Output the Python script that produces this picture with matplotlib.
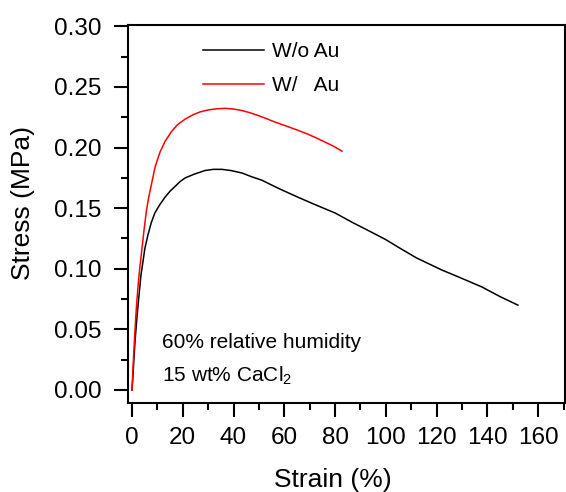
#stress-strain curves, with and without Au

import numpy as np
import matplotlib
matplotlib.use('Agg')
import matplotlib.pyplot as plt

plt.rcParams['font.family'] = ['Liberation Sans', 'DejaVu Sans']
plt.rcParams['mathtext.fontset'] = 'custom'
plt.rcParams['mathtext.rm'] = 'Liberation Sans'
plt.rcParams['mathtext.it'] = 'Liberation Sans:italic'

#W/o Au (black)
strain_wo = [0.0, 0.4, 0.8, 1.2, 1.8, 2.4, 3.5, 5.1, 6.3, 7.6, 9.0, 11.0, 13.0, 15.0, 17.0, 19.0,
             21.0, 24.5, 28.7, 32.0, 35.4, 39.0, 43.3, 47.0, 51.2, 58.0, 65.4, 72.0, 80.0,
             87.0, 94.5, 100.0, 104.7, 112.0, 122.0, 130.0, 137.8, 145.0, 152.0]
stress_wo = [0.000, 0.012, 0.027, 0.040, 0.056, 0.070, 0.094, 0.117, 0.128, 0.138, 0.146, 0.153,
             0.159, 0.164, 0.168, 0.172, 0.175, 0.178, 0.181, 0.182, 0.182, 0.181, 0.179, 0.176,
             0.173, 0.166, 0.159, 0.153, 0.146, 0.138, 0.130, 0.124, 0.118, 0.109, 0.099, 0.092,
             0.085, 0.077, 0.070]

#W/ Au (red)
strain_w = [0.0, 0.5, 1.2, 1.8, 2.4, 3.1, 3.9, 4.8, 5.7, 6.6, 7.5, 9.1, 11.0, 13.0, 15.5, 18.0,
            21.0, 24.0, 27.0, 30.0, 33.5, 36.6, 40.0, 43.3, 46.5, 49.6, 53.0, 56.3, 60.0,
            65.0, 69.3, 72.5, 76.0, 79.5, 82.7]
stress_w = [0.000, 0.022, 0.050, 0.070, 0.086, 0.101, 0.116, 0.133, 0.148, 0.159, 0.168, 0.184,
            0.196, 0.205, 0.213, 0.219, 0.2235, 0.227, 0.2295, 0.231, 0.232, 0.2323, 0.2318,
            0.2305, 0.2287, 0.2265, 0.2238, 0.221, 0.2183, 0.2145, 0.211, 0.208, 0.2045,
            0.201, 0.197]

fig = plt.figure(figsize=(5.66, 4.92), dpi=100)
ax = fig.add_axes([0.226, 0.181, 0.772, 0.768])

ax.plot(strain_wo, stress_wo, color='black', lw=1.1, label='W/o Au')
ax.plot(strain_w, stress_w, color='#ff0000', lw=1.1, label='W/   Au')

ax.set_xlim(-1.6, 170.5)
ax.set_ylim(-0.0107, 0.301)
ax.set_xticks(np.arange(0, 161, 20))
ax.set_xticks(np.arange(10, 171, 20), minor=True)
ax.set_yticks(np.arange(0, 0.301, 0.05))
ax.set_yticks(np.arange(0.025, 0.3, 0.05), minor=True)
ax.yaxis.set_major_formatter(matplotlib.ticker.FormatStrFormatter('%.2f'))

ax.tick_params(which='both', direction='out', width=1.5, labelsize=17.5, top=False, right=False)
ax.tick_params(which='major', length=10)
ax.tick_params(axis='y', which='major', pad=9)
ax.tick_params(axis='x', which='major', pad=7)
ax.tick_params(which='minor', length=5)
for s in ax.spines.values():
    s.set_linewidth(1.5)

ax.set_xlabel('Strain (%)', fontsize=19)
ax.set_ylabel('Stress (MPa)', fontsize=19)
ax.xaxis.set_label_coords(0.47, -0.171)
ax.yaxis.set_label_coords(-0.213, 0.529)

ax.legend(loc='upper left', bbox_to_anchor=(0.172, 0.954), frameon=False, fontsize=15,
          handlelength=2.93, handletextpad=0.38, labelspacing=0.7, borderpad=0,
          borderaxespad=0)

ax.text(0.078, 0.159, '60% relative humidity', transform=ax.transAxes, fontsize=15, va='center')
ax.text(0.078, 0.071, '15 wt% CaCl$_2$', transform=ax.transAxes, fontsize=15, va='center')

fig.savefig('out.png', dpi=100)
